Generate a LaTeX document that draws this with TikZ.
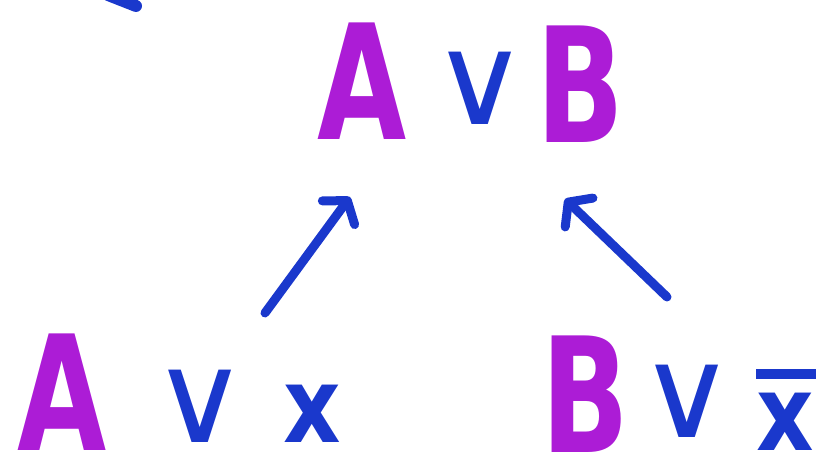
\documentclass[tikz,border=0pt]{standalone}
\usepackage{fontspec}
\setmainfont{DejaVu Sans}
\usetikzlibrary{arrows.meta}
\definecolor{inkpurple}{RGB}{172,28,214}
\definecolor{inkblue}{RGB}{26,56,204}

\begin{document}
\begin{tikzpicture}[
	x=1pt, y=1pt,
	letter/.style={inner sep=0pt, anchor=base, text=inkpurple, font=\fontsize{160}{160}\selectfont\bfseries, xscale=0.72, transform shape},
	op/.style={inner sep=0pt, anchor=base, text=inkblue, font=\fontsize{105}{105}\selectfont\bfseries, xscale=0.85, transform shape},
	vee/.style={op, font=\fontsize{125}{125}\selectfont\mdseries, xscale=1.25},
	arrow/.style={inkblue, line width=9pt, line cap=round, -{Straight Barb[round, length=15pt, width=40pt]}}
]
\useasboundingbox (0,0) rectangle (825,465);
\clip (0,0) rectangle (825,465);

% leftover stroke at the top
\draw[inkblue, line width=12pt, line cap=round] (108,470) -- (136,459);

% Nodes
\node[letter] (topA) at (362,325) {A};
\node[vee]  (topor) at (480,340) {∨};
\node[letter] (topB) at (580,322) {B};

\node[letter] (leftA) at (62,14) {A};
\node[vee]  (leftor) at (200,22) {∨};
\node[op]  (leftx) at (312,22) {x};

\node[letter] (rightB) at (585,12) {B};
\node[vee]  (rightor) at (687,27) {∨};
\node[op]  (rightx) at (785,14) {\rlap{\raisebox{72pt}{\rule{70pt}{10pt}}}x};

% Arrow ends
\coordinate (ltail) at (265,152);
\coordinate (lhead) at (350,268);
\coordinate (rtail) at (667,168);
\coordinate (rhead) at (565,266);

% Edges
\draw[arrow] (ltail) -- (lhead);
\draw[arrow] (rtail) -- (rhead);

\end{tikzpicture}
\end{document}
